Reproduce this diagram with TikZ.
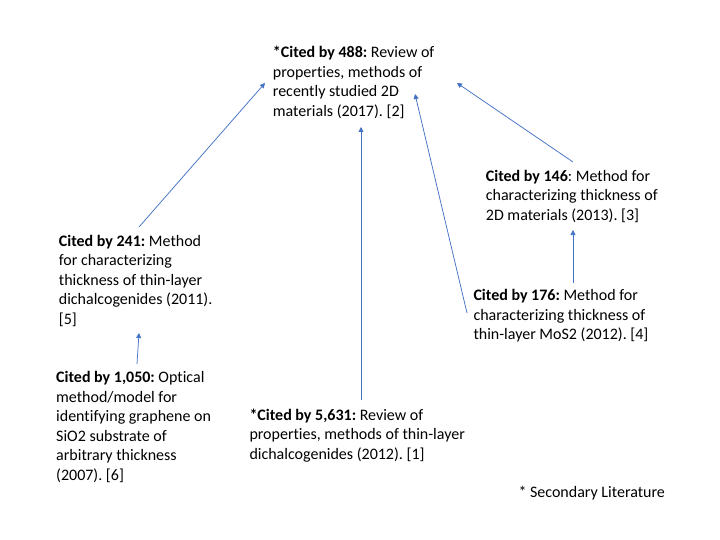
\documentclass[tikz,border=0pt]{standalone}
\usepackage{fontspec}
\setmainfont{Carlito}[Ligatures=NoCommon]
\usetikzlibrary{arrows.meta}
\definecolor{arrblue}{HTML}{4472C4}
\frenchspacing
\begin{document}
\begin{tikzpicture}[x=1pt,y=-1pt,
  txt/.style={anchor=base west,inner sep=0pt,align=left,font=\fontsize{16}{19.5}\selectfont},
  arr/.style={draw=arrblue,line width=0.75pt,-{Triangle[width=5pt,length=5pt]}}]
\useasboundingbox[fill=white] (0,0) rectangle (720,540);
% anchors are the baselines of the last lines
\node[txt] (top) at (272.7,116.5) {\textbf{*Cited by 488:} Review of\\properties, methods of\\recently studied 2D\\materials (2017). [2]};
\node[txt] (n241) at (58.7,324) {\textbf{Cited by 241:} Method\\for characterizing\\thickness of thin-layer\\dichalcogenides (2011).\\{[5]}};
\node[txt] (n1050) at (56,480) {\textbf{Cited by 1,050:} Optical\\method/model for\\identifying graphene on\\SiO2 substrate of\\arbitrary thickness\\(2007). [6]};
\node[txt] (n5631) at (249.3,459) {\textbf{*Cited by 5,631:} Review of\\properties, methods of thin-layer\\dichalcogenides (2012). [1]};
\node[txt] (n146) at (485.7,220.3) {\textbf{Cited by 146}: Method for\\characterizing thickness of\\2D materials (2013). [3]};
\node[txt] (n176) at (473.3,339.5) {\textbf{Cited by 176:} Method for\\characterizing thickness of\\thin-layer MoS2 (2012). [4]};
\node[txt] (sec) at (518.3,497) {* Secondary Literature};
\coordinate (s241) at (139,227); \coordinate (e241) at (265,83);
\coordinate (s1050) at (137,364); \coordinate (e1050) at (139,333);
\coordinate (s5631) at (361,400); \coordinate (e5631) at (361,127);
\coordinate (s176) at (467,313); \coordinate (e176) at (415,94);
\coordinate (s146) at (573,162); \coordinate (e146) at (457,83);
\coordinate (s176b) at (573,283); \coordinate (e176b) at (573,230);
\draw[arr] (s241) -- (e241);
\draw[arr] (s1050) -- (e1050);
\draw[arr] (s5631) -- (e5631);
\draw[arr] (s176) -- (e176);
\draw[arr] (s146) -- (e146);
\draw[arr] (s176b) -- (e176b);
\end{tikzpicture}
\end{document}
